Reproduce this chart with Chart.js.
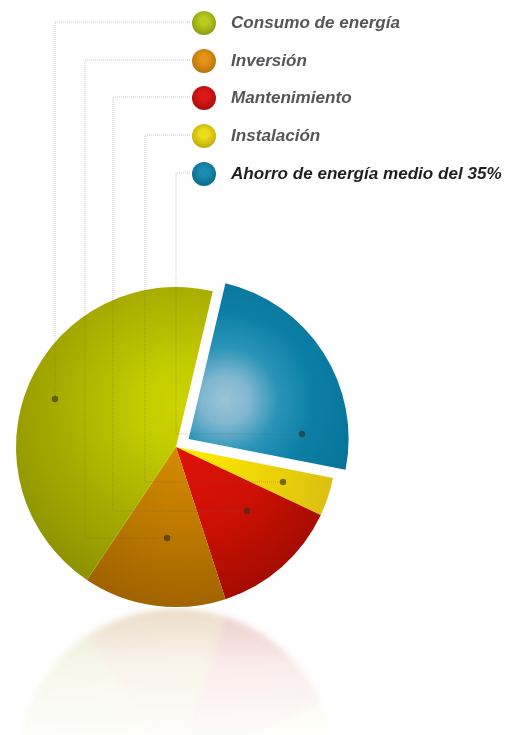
<!DOCTYPE html>
<html lang="es">
<head>
<meta charset="utf-8">
<title>Consumo de energía</title>
<script src="https://cdn.jsdelivr.net/npm/chart.js@4"></script>
<style>
    html, body { margin: 0; background: #fff; }
    .stage { position: relative; width: 518px; height: 735px; overflow: hidden; }
    /* the canvas starts left of the page so the chart area fits the offset slice */
    #pie { position: absolute; left: -40px; top: 0; }
    /* the reflection canvas is flipped under the pie and fades out downwards */
    .mirror {
        position: absolute; left: 0; top: 608px; width: 518px; height: 127px; overflow: hidden;
        -webkit-mask-image: linear-gradient(rgba(0,0,0,.22), rgba(0,0,0,.08) 45%, rgba(0,0,0,.015));
        mask-image: linear-gradient(rgba(0,0,0,.22), rgba(0,0,0,.08) 45%, rgba(0,0,0,.015));
    }
    #reflection { position: absolute; left: -40px; top: -608px; transform-origin: 0 608px; transform: scaleY(-1); filter: blur(3px); }
    .key { position: absolute; left: 192px; height: 24px; display: flex; align-items: center; white-space: nowrap; }
    .ball { width: 24px; height: 24px; border-radius: 50%; margin-right: 15px; flex: none; }
    .key span {
        font: italic bold 17.1px "Liberation Sans", Arial, sans-serif;
        color: #55555a;
    }
    .key.strong span { color: #1f2024; }
</style>
</head>
<body>
<div class="stage">
    <canvas id="pie" width="558" height="735"></canvas>
    <div class="mirror"><canvas id="reflection" width="558" height="735"></canvas></div>
    <div id="keys"></div>
</div>
<script>
    var categories = ["Consumo de energía", "Inversión", "Mantenimiento", "Instalación", "Ahorro de energía medio del 35%"];
    var shares = [44.3, 14.4, 13.0, 3.9, 24.4];

    // Colores de cada sector: centro, mitad, borde
    var innerColors = ["#c4cc00", "#d68a00", "#e01208", "#ffec00", "#1f90b6"];
    var middleColors = ["#aeb200", "#bd7a00", "#cc1004", "#eed406", "#0c7fa6"];
    var outerColors = ["#8f9500", "#a06200", "#a00b00", "#d8bc14", "#05698f"];
    var ballColors = ["#bccb20", "#e39418", "#de1818", "#efdc18", "#1a8db0"];
    var ballEdges = ["#76840a", "#a46206", "#8e0808", "#a89400", "#045a7a"];

    // Filas de la leyenda y recorrido de cada guía hasta su punto dentro del sector
    var keyRows = [23, 61, 98, 136, 174];
    var leaderColumns = [55, 85, 113, 145, 176];
    var leaderEnds = [[55, 399], [167, 538], [247, 511], [283, 482], [302, 434]];

    var firstAngle = 13.3;
    // Chart.js desplaza el sector una cuarta parte de este valor
    var blueOffset = 60;
    var canvasShift = 40;

    // El pastel gira en sentido horario desde Ahorro, orden inverso a la leyenda
    var pieLabels = categories.slice().reverse();
    var pieValues = shares.slice().reverse();

    function sliceFill(context) {
        var chart = context.chart;
        var area = chart.chartArea;
        if (!area) return innerColors[0];
        var i = categories.length - 1 - context.dataIndex;
        var cx = (area.left + area.right) / 2;
        var cy = (area.top + area.bottom) / 2;
        var c = chart.ctx;
        var g;
        if (i === 4) {
            // el contexto ya viene trasladado con el sector separado
            g = c.createRadialGradient(cx + 37, cy - 39, 0, cx + 37, cy - 39, 175);
            g.addColorStop(0, "#9cc4d8");
            g.addColorStop(0.14, "#7fb6d0");
            g.addColorStop(0.3, "#2a94b8");
            g.addColorStop(0.5, middleColors[i]);
            g.addColorStop(1, outerColors[i]);
        } else if (i === 0) {
            g = c.createRadialGradient(cx + 5, cy - 40, 0, cx + 5, cy - 40, 190);
            g.addColorStop(0, "#ced400");
            g.addColorStop(0.22, innerColors[i]);
            g.addColorStop(0.55, middleColors[i]);
            g.addColorStop(1, outerColors[i]);
        } else {
            g = c.createRadialGradient(cx + 10, cy, 0, cx + 10, cy, 165);
            g.addColorStop(0, innerColors[i]);
            g.addColorStop(0.5, middleColors[i]);
            g.addColorStop(1, outerColors[i]);
        }
        return g;
    }

    var leaderPlugin = {
        id: "leaders",
        afterDraw: function (chart) {
            var c = chart.ctx;
            c.save();
            c.translate(canvasShift, 0);
            categories.forEach(function (name, i) {
                var end = leaderEnds[i];
                c.beginPath();
                c.moveTo(190, keyRows[i] - 1);
                c.lineTo(leaderColumns[i], keyRows[i] - 1);
                c.lineTo(leaderColumns[i], end[1]);
                c.lineTo(end[0], end[1]);
                c.setLineDash([1, 1]);
                c.lineWidth = 1;
                c.strokeStyle = "rgba(95,95,95,0.34)";
                c.stroke();
                c.setLineDash([]);
                c.beginPath();
                c.arc(end[0], end[1], 3.2, 0, Math.PI * 2);
                c.fillStyle = "rgba(45,45,35,0.62)";
                c.fill();
            });
            c.restore();
        }
    };

    function pieConfig(plugins) {
        return {
            type: "pie",
            data: {
                labels: pieLabels,
                datasets: [{
                    data: pieValues,
                    backgroundColor: sliceFill,
                    borderWidth: 0,
                    hoverOffset: 0,
                    offset: [blueOffset, 0, 0, 0, 0]
                }]
            },
            options: {
                responsive: false,
                animation: false,
                rotation: firstAngle,
                layout: { padding: { left: 26, right: 152, top: 257, bottom: 98 } },
                plugins: { legend: { display: false }, tooltip: { enabled: false } }
            },
            plugins: plugins
        };
    }

    var myChart = new Chart(document.getElementById("pie"), pieConfig([leaderPlugin]));
    var mirrorChart = new Chart(document.getElementById("reflection"), pieConfig([]));

    // Leyenda con la misma lista de categorías
    var keys = document.getElementById("keys");
    categories.forEach(function (name, i) {
        var row = document.createElement("div");
        row.className = "key" + (i === categories.length - 1 ? " strong" : "");
        row.style.top = (keyRows[i] - 12) + "px";
        var ball = document.createElement("div");
        ball.className = "ball";
        ball.style.background = "radial-gradient(circle at 50% 42%, " + ballColors[i] + " 22%, " + ballEdges[i] + " 100%)";
        var text = document.createElement("span");
        text.textContent = name;
        row.appendChild(ball);
        row.appendChild(text);
        keys.appendChild(row);
    });
</script>
</body>
</html>
